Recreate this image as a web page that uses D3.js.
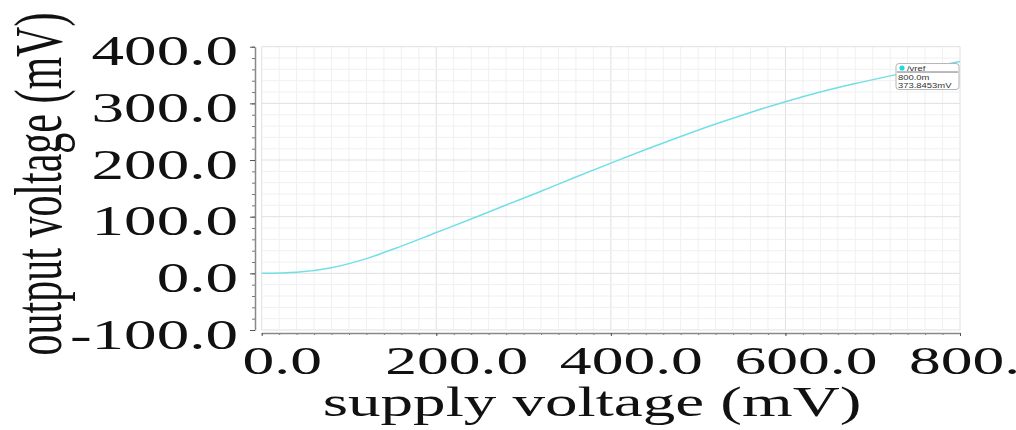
<!DOCTYPE html>
<html>
<head>
<meta charset="utf-8">
<script src="https://cdn.jsdelivr.net/npm/d3@7"></script>
<style>
  html, body { margin: 0; padding: 0; background: #fff; }
  svg { display: block; }
</style>
</head>
<body>
<svg id="chart" width="1016" height="430"></svg>
<script>
// ---- data ----
const supplyMv = [0, 40, 80, 120, 160, 200, 240, 280, 320, 360, 400, 440, 480, 520, 560, 600, 640, 680, 720, 760, 800];
const vrefMv   = [0, 2, 10, 26, 48, 72, 96, 120.5, 145, 170, 194.5, 218.5, 241.5, 263.5, 284, 303, 320, 335, 348.5, 361.5, 373.8453];
const xTickValues = [0, 200, 400, 600, 800];
const xTickLabels = ["0.0", "200.0", "400.0", "600.0", "800.0"];
const yTickValues = [-100, 0, 100, 200, 300, 400];
const yTickLabels = ["-100.0", "0.0", "100.0", "200.0", "300.0", "400.0"];
const xTitle = "supply voltage (mV)";
const yTitle = "output voltage (mV)";
const legendName = "/vref";
const markerX = "800.0m";
const markerY = "373.8453mV";

// ---- layout ----
const svg = d3.select("#chart");
const X0 = 261.7, X1 = 960, Y0 = 330, Y1 = 46.7;
const SX = 1.55;           // horizontal stretch of the text
const serif = "'Liberation Serif', 'Times New Roman', serif";

const x = d3.scaleLinear().domain([0, 800]).range([X0, X1]);
const y = d3.scaleLinear().domain([-100, 400]).range([Y0, Y1]);

// grid
const grid = svg.append("g");
const xMinor = d3.range(0, 801, 20), yMinor = d3.range(-100, 401, 20);
grid.selectAll(".vx").data(xMinor).join("line")
  .attr("x1", d => x(d)).attr("x2", d => x(d)).attr("y1", Y1).attr("y2", Y0)
  .attr("stroke", d => d % 200 === 0 ? "#e0e0e0" : "#f0f0f0").attr("stroke-width", 1);
grid.selectAll(".hy").data(yMinor).join("line")
  .attr("y1", d => y(d)).attr("y2", d => y(d)).attr("x1", X0).attr("x2", X1)
  .attr("stroke", d => d % 100 === 0 ? "#e0e0e0" : "#f0f0f0").attr("stroke-width", 1);

// minor ticks
const yAxisX = 255, xAxisY = 333;
svg.append("g").attr("transform", `translate(${yAxisX},0)`)
  .call(d3.axisLeft(y).tickValues(yMinor).tickSize(3).tickFormat(""))
  .call(g => g.select(".domain").remove())
  .call(g => g.selectAll("line").attr("stroke", "#777"));
svg.append("g").attr("transform", `translate(0,${xAxisY})`)
  .call(d3.axisBottom(x).tickValues(xMinor).tickSize(2).tickFormat(""))
  .call(g => g.select(".domain").remove())
  .call(g => g.selectAll("line").attr("stroke", "#777"));

// major axes
const yAxis = svg.append("g").attr("transform", `translate(${yAxisX},0)`)
  .call(d3.axisLeft(y).tickValues(yTickValues).tickSize(5).tickSizeOuter(0)
        .tickFormat((d, i) => yTickLabels[i]));
yAxis.select(".domain").attr("stroke", "#888").attr("stroke-width", 1.5);
yAxis.selectAll("line").attr("stroke", "#555");
yAxis.selectAll("text")
  .attr("x", 0).attr("y", 0).attr("dy", null)
  .attr("text-anchor", "end")
  .attr("transform", `translate(-17,18) scale(${SX},1)`)
  .style("font-family", serif).style("font-size", "42px").attr("fill", "#111");

const xAxis = svg.append("g").attr("transform", `translate(0,${xAxisY})`)
  .call(d3.axisBottom(x).tickValues(xTickValues).tickSize(3).tickSizeOuter(0)
        .tickFormat((d, i) => xTickLabels[i]));
xAxis.select(".domain").attr("stroke", "#888").attr("stroke-width", 1.5);
xAxis.selectAll("line").attr("stroke", "#555");
xAxis.selectAll("text")
  .attr("x", 0).attr("y", 0).attr("dy", null)
  .attr("text-anchor", "middle")
  .attr("transform", `translate(20,41) scale(${SX},1)`)
  .style("font-family", serif).style("font-size", "41px").attr("fill", "#111");

// titles
svg.append("text")
  .attr("transform", `translate(592,416) scale(${SX},1)`)
  .attr("text-anchor", "middle")
  .style("font-family", serif).style("font-size", "42px").attr("fill", "#111")
  .text(xTitle);
svg.append("text")
  .attr("transform", `translate(61,184) scale(1.6,1) rotate(-90)`)
  .attr("text-anchor", "middle")
  .style("font-family", serif).style("font-size", "42px").attr("fill", "#111")
  .text(yTitle);

// curve
const pts = supplyMv.map((s, i) => [s, vrefMv[i]]);
svg.append("path").datum(pts)
  .attr("fill", "none").attr("stroke", "#72dfe6").attr("stroke-width", 1.5)
  .attr("d", d3.line().x(d => x(d[0])).y(d => y(d[1])).curve(d3.curveMonotoneX));

// marker label
const mx = x(800), my = y(373.8453);
const lg = svg.append("g").attr("transform", `translate(${mx - 64},${my + 2})`);
lg.append("rect").attr("x", 0).attr("y", 0).attr("width", 63).attr("height", 26).attr("rx", 3)
  .attr("fill", "#fff").attr("stroke", "#b5b5b5");
lg.append("circle").attr("cx", 6).attr("cy", 4.5).attr("r", 2.6).attr("fill", "#22d8e2");
lg.append("line").attr("x1", 1).attr("x2", 62).attr("y1", 8.5).attr("y2", 8.5).attr("stroke", "#777");
const sans = "'Liberation Sans', Arial, sans-serif";
[[legendName, 11, 7], [markerX, 2, 16], [markerY, 2, 24]].forEach(([t, tx, ty]) => {
  lg.append("text").attr("transform", `translate(${tx},${ty}) scale(1.35,1)`)
    .style("font-family", sans).style("font-size", "7px").attr("fill", "#333").text(t);
});
</script>
</body>
</html>
